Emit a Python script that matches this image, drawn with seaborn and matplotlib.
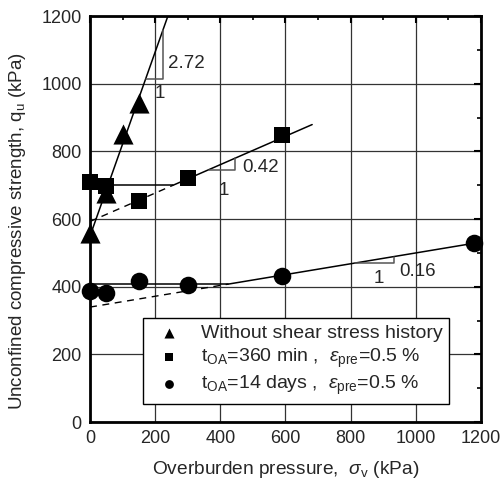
import numpy as np
import pandas as pd
import matplotlib
matplotlib.use("Agg")
import matplotlib.pyplot as plt
import seaborn as sns
from matplotlib.ticker import MultipleLocator

# ---- data ----
tri_x = [0, 50, 100, 150]
tri_y = [560, 677, 853, 943]
sq_x = [0, 50, 150, 300, 590]
sq_y = [710, 698, 654, 722, 848]
ci_x = [0, 50, 150, 300, 590, 1178]
ci_y = [388, 383, 418, 405, 432, 528]

series_labels = [
    "Without shear stress history",
    r"t$_{\rm OA}$=360 min ,  $\it{\varepsilon}_{\rm pre}$=0.5 %",
    r"t$_{\rm OA}$=14 days ,  $\it{\varepsilon}_{\rm pre}$=0.5 %",
]

# fitted lines: slope, intercept, plateau level, end of line
fit_slopes = [2.72, 0.42, 0.16]
fit_intercepts = [550, 593, 340]
fit_plateaus = [None, 700, 408]
fit_ends = [250, 682, 1178]
# slope-triangle leg positions (x start, x end) and label positions
tri_legs = [(171, 224), (364, 446), (815, 933)]
slope_text_pos = [(295, 1060), (523, 753), (1005, 444)]
one_text_pos = [(215, 972), (410, 685), (887, 425)]

sns.set_theme(style="white")
plt.rcParams["font.family"] = ["Liberation Sans", "DejaVu Sans"]
plt.rcParams["mathtext.fontset"] = "custom"
plt.rcParams["mathtext.rm"] = "Liberation Sans"
plt.rcParams["mathtext.it"] = "Liberation Sans:italic"

fig = plt.figure(figsize=(5.03, 4.88), dpi=100)
ax = fig.add_axes([0.179, 0.135, 0.777, 0.832])

ax.grid(True, which="major", color="#333333", lw=0.9)
ax.set_axisbelow(True)

df_t = pd.DataFrame({"x": tri_x, "y": tri_y})
df_s = pd.DataFrame({"x": sq_x, "y": sq_y})
df_c = pd.DataFrame({"x": ci_x, "y": ci_y})

# fit lines
for i in range(3):
    m, b, p, e = fit_slopes[i], fit_intercepts[i], fit_plateaus[i], fit_ends[i]
    if p is None:
        xs = np.array([0, e])
        ax.plot(xs, m * xs + b, color="black", lw=1.1, zorder=2)
    else:
        xi = (p - b) / m
        ax.plot([0, xi], [p, p], color="black", lw=1.1, zorder=2)
        xs = np.array([0, xi])
        ax.plot(xs, m * xs + b, color="black", lw=1.0, ls=(0, (5, 4)), zorder=2)
        xs = np.array([xi, e])
        ax.plot(xs, m * xs + b, color="black", lw=1.1, zorder=2)
    xa, xb = tri_legs[i]
    ya, yb = m * xa + b, m * xb + b
    ax.plot([xa, xb, xb], [ya, ya, yb], color="#555555", lw=1.1, zorder=2)
    ax.text(*slope_text_pos[i], f"{m:.2f}", fontsize=13.5, ha="center", va="center")
    ax.text(*one_text_pos[i], "1", fontsize=13.5, ha="center", va="center")

sns.scatterplot(data=df_t, x="x", y="y", marker="^", s=210, color="black",
                edgecolor="black", linewidth=0, label=series_labels[0], ax=ax, zorder=3, clip_on=False)
sns.scatterplot(data=df_s, x="x", y="y", marker="s", s=130, color="black",
                edgecolor="black", linewidth=0, label=series_labels[1], ax=ax, zorder=3, clip_on=False)
sns.scatterplot(data=df_c, x="x", y="y", marker="o", s=160, color="black",
                edgecolor="black", linewidth=0, label=series_labels[2], ax=ax, zorder=3, clip_on=False)

ax.set_xlim(0, 1200)
ax.set_ylim(0, 1200)
ax.xaxis.set_major_locator(MultipleLocator(200))
ax.xaxis.set_minor_locator(MultipleLocator(100))
ax.yaxis.set_major_locator(MultipleLocator(200))
ax.yaxis.set_minor_locator(MultipleLocator(100))
ax.tick_params(which="both", direction="in", top=True, right=True, color="black")
ax.tick_params(which="major", length=5, width=1.5, labelsize=13, pad=6)
ax.tick_params(which="minor", length=3, width=1.2)
for s in ax.spines.values():
    s.set_linewidth(2)
    s.set_color("black")

ax.set_xlabel(r"Overburden pressure,  $\it{\sigma}_{\rm v}$ (kPa)", fontsize=13.8, labelpad=8)
ax.set_ylabel(r"Unconfined compressive strength, q$_{\rm u}$ (kPa)", fontsize=13.5)
ax.yaxis.set_label_coords(-0.16, 0.47)

leg = ax.legend(loc="lower left", bbox_to_anchor=(0.136, 0.044), fontsize=14,
                frameon=True, fancybox=False, framealpha=1, edgecolor="black",
                markerscale=0.5, handletextpad=0.6, borderpad=0.35, labelspacing=0.22,
                borderaxespad=0)
leg.get_frame().set_linewidth(1.0)

fig.savefig("out.png", dpi=100)
